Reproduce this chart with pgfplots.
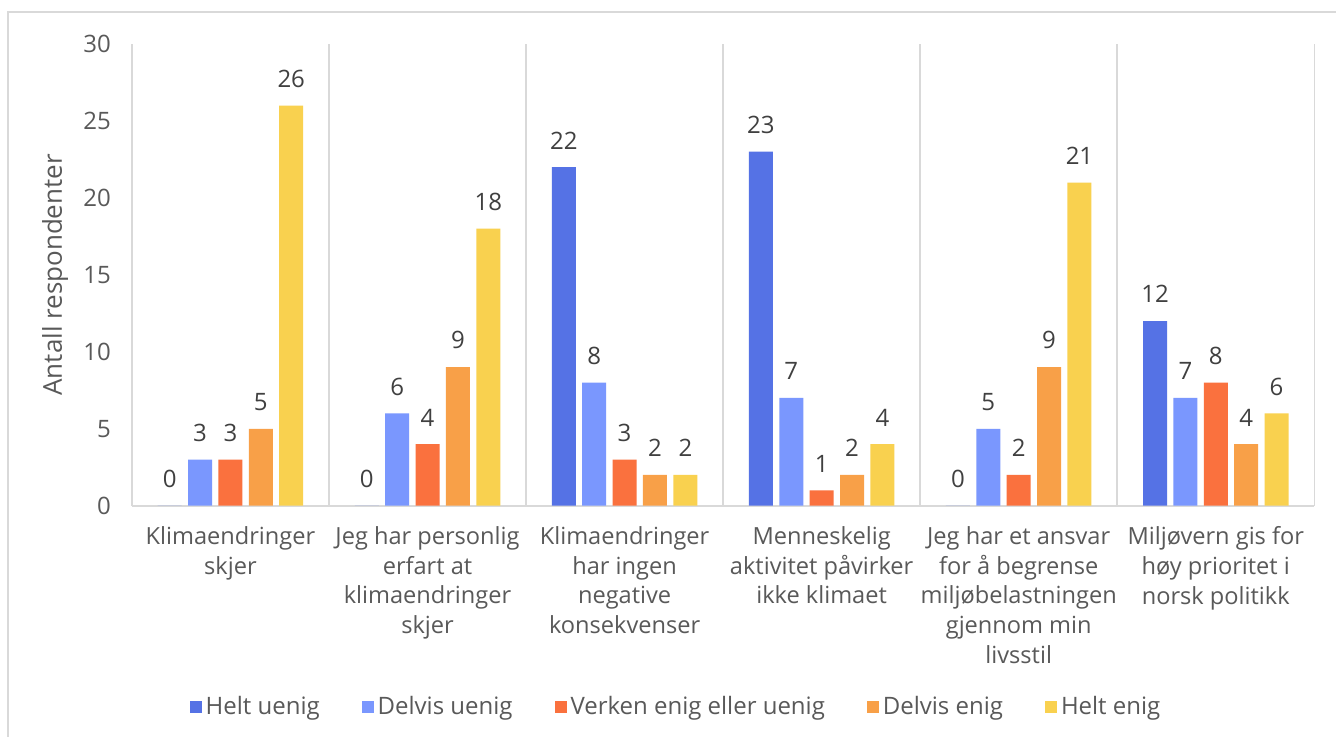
\documentclass[border=0pt]{standalone}
\usepackage{fontspec}
\setmainfont{Open Sans}
\usepackage{pgfplots}
\pgfplotsset{compat=1.18}
\definecolor{cA}{HTML}{5572E5}
\definecolor{cB}{HTML}{7A97FE}
\definecolor{cC}{HTML}{FA713E}
\definecolor{cD}{HTML}{F8A048}
\definecolor{cE}{HTML}{F9D14F}
\definecolor{txt}{HTML}{595959}
\definecolor{lbl}{HTML}{404040}
\definecolor{gridc}{HTML}{D9D9D9}
\begin{document}
\begin{tikzpicture}
\path[fill=white] (0pt,0pt) rectangle (668.5pt,-368.5pt);
\draw[gridc, line width=0.7pt] (4pt,-368.5pt) -- (4pt,-6pt) -- (668.5pt,-6pt);
\begin{axis}[
  at={(66pt,-253pt)}, anchor=south west,
  scale only axis, width=591.5pt, height=231pt,
  ybar=3.2pt, bar width=12pt,
  xmin=-0.5, xmax=5.5, ymin=0, ymax=30,
  xtick={0,...,5},
  xticklabels={{Klimaendringer\\skjer},{Jeg har personlig\\erfart at\\klimaendringer\\skjer},{Klimaendringer\\har ingen\\negative\\konsekvenser},{Menneskelig\\aktivitet påvirker\\ikke klimaet},{Jeg har et ansvar\\for å begrense\\miljøbelastningen\\gjennom min\\livsstil},{Miljøvern gis for\\høy prioritet i\\norsk politikk}},
  xticklabel style={align=center, font=\fontsize{11.8}{14.8}\selectfont, text=txt, yshift=-7pt},
  ytick={0,5,...,30},
  yticklabel style={font=\fontsize{12}{14}\selectfont, text=txt, xshift=-7pt},
  /pgf/number format/assume math mode=true,
  minor xtick={-0.5,0.5,...,5.5},
  xminorgrids=true,
  minor grid style={gridc, line width=0.8pt},
  major tick length=0pt, minor tick length=0pt,
  axis line style={draw=none},
  extra y ticks={0}, extra y tick labels={},
  extra y tick style={grid=major, major grid style={gridc, line width=1pt}},
  ylabel={Antall respondenter},
  ylabel style={at={(axis description cs:-0.065,0.5)}, anchor=center, font=\fontsize{13}{15}\selectfont, text=txt},
  nodes near coords,
  every node near coord/.append style={font=\fontsize{12}{14}\selectfont, text=lbl, anchor=south, yshift=5.5pt},
  clip=false,
  legend columns=5,
  legend style={at={(0.461,-0.435)}, anchor=center, draw=none, font=\fontsize{12}{14}\selectfont, text=txt,
    /tikz/every even column/.append style={column sep=19pt}},
  legend image code/.code={\fill[#1] (0pt,-3pt) rectangle (6pt,3pt);},
]
\addplot[fill=cA, draw=none] coordinates {(0,0) (1,0) (2,22) (3,23) (4,0) (5,12)};
\addplot[fill=cB, draw=none] coordinates {(0,3) (1,6) (2,8) (3,7) (4,5) (5,7)};
\addplot[fill=cC, draw=none] coordinates {(0,3) (1,4) (2,3) (3,1) (4,2) (5,8)};
\addplot[fill=cD, draw=none] coordinates {(0,5) (1,9) (2,2) (3,2) (4,9) (5,4)};
\addplot[fill=cE, draw=none] coordinates {(0,26) (1,18) (2,2) (3,4) (4,21) (5,6)};
\legend{Helt uenig, Delvis uenig, Verken enig eller uenig, Delvis enig, Helt enig}
\end{axis}
\end{tikzpicture}
\end{document}
